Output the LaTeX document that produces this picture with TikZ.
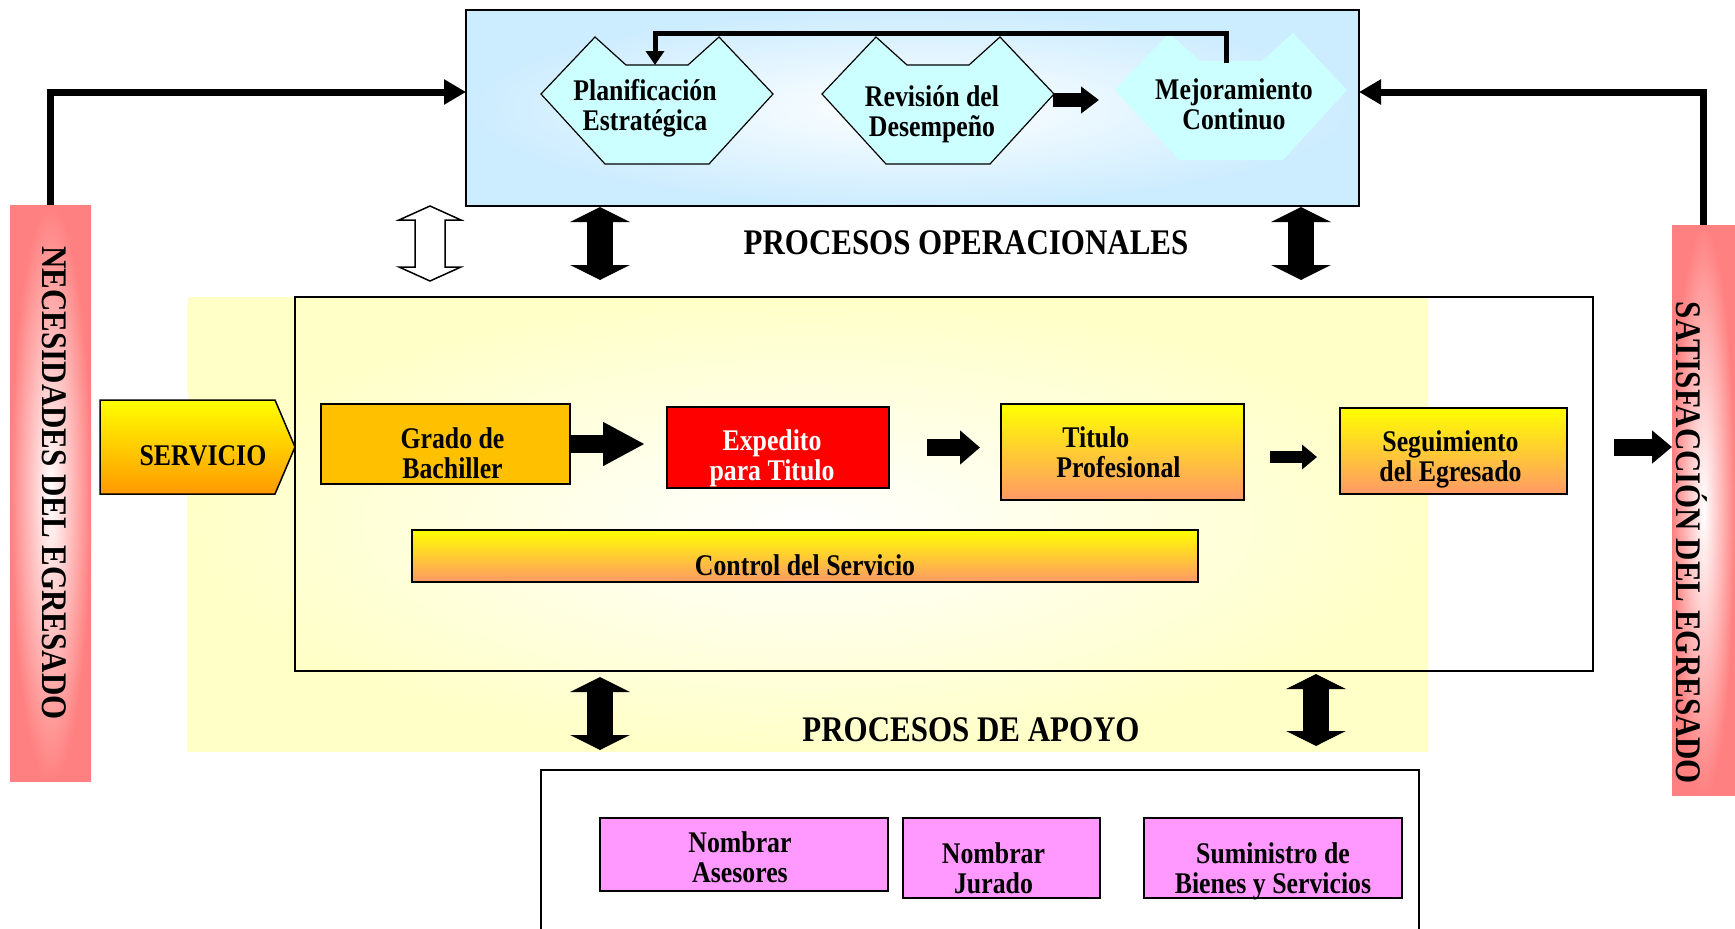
\documentclass[tikz,border=0pt]{standalone}
\usepackage{fontspec}
\setmainfont{Liberation Serif}[FakeStretch=0.86]
\usetikzlibrary{arrows.meta}
\definecolor{celeste}{HTML}{CCECFF}
\definecolor{cian}{HTML}{CCFFFF}
\definecolor{rosa}{HTML}{FF8080}
\definecolor{crema}{HTML}{FFFFC8}
\definecolor{ambar}{HTML}{FFC000}
\definecolor{salmon}{HTML}{FF9966}
\definecolor{naranja}{HTML}{FF9900}
\definecolor{lila}{HTML}{FF99FF}
\begin{document}
\begin{tikzpicture}[x=1pt, y=-1pt, font=\bfseries\fontsize{30}{30}\selectfont, line join=miter,
  caja/.style={draw, line width=1.5pt, inner sep=0pt, outer sep=0pt, align=center},
  barra/.style={inner sep=0pt, outer sep=0pt, inner color=white, outer color=rosa},
  titular/.style={font=\bfseries\fontsize{36}{36}\selectfont},
  bloque/.style n args={3}{line width=#1, -{Triangle[length=#2, width=#3]}},
  doble/.style={line width=26pt, {Triangle[length=15pt,width=59pt]}-{Triangle[length=15pt,width=59pt]}},
  enlace/.style={line width=7pt, -{Triangle[length=22pt,width=24pt]}},
  hexa/.pic={\path[pic actions] (-116,0) -- (-62,-57) -- (-31,-29) -- (31,-29) -- (62,-57) -- (116,0) -- (52,70) -- (-52,70) -- cycle;}]
\useasboundingbox (0,0) rectangle (1735,929);
\node[caja, line width=1.2pt, minimum width=893pt, minimum height=196pt, inner color=white, outer color=celeste] (estrategico) at (912.5,108) {};
\node[barra, minimum width=81pt, minimum height=576pt] (necesidad) at (50.5,493) {};
\node[barra, minimum width=63pt, minimum height=570pt] (satisfaccion) at (1703.5,510) {};
\node[rotate=-90, titular] (necesidadTxt) at (54,483) {NECESIDADES DEL EGRESADO};
\node[rotate=-90, titular] (satisfaccionTxt) at (1692,543) {SATISFACCIÓN DEL EGRESADO};
\node[inner sep=0pt, minimum width=1240pt, minimum height=454pt, inner color=white, outer color=crema] (zona) at (808,524) {};
\node[caja, minimum width=1298pt, minimum height=374pt] (operativo) at (944,484) {};
\pic[draw, line width=1.2pt, fill=cian] at (657,94) {hexa};
\pic[draw, line width=1.2pt, fill=cian] at (938,94) {hexa};
\pic[fill=cian] at (1231,90) {hexa};
\node[align=center] (planificacion) at (645,108) {Planificación\\Estratégica};
\node[align=center] (revision) at (932,114) {Revisión del\\Desempeño};
\node[align=center] (mejora) at (1234,104) {Mejoramiento\\Continuo};
\coordinate (mejoraN) at (1226,63);
\coordinate (planN) at (655,65);
\coordinate (revisionE) at (1053,100);
\coordinate (mejoraW) at (1118,100);
\draw[line width=5pt, -{Triangle[length=14pt,width=18pt]}] (mejoraN) -- ++(0,-30) -| (planN);
\draw[bloque={14pt}{18pt}{26pt}, shorten >=19pt] (revisionE) -- (mejoraW);
\draw[enlace] (necesidad.north) |- ([yshift=16pt]estrategico.west);
\draw[enlace] (satisfaccion.north) |- ([yshift=16pt]estrategico.east);
\draw[line width=1.5pt, fill=white] (430,206) -- (461,220) -- (445,220) -- (445,267) -- (461,267) -- (430,281) -- (399,267) -- (415,267) -- (415,220) -- (399,220) -- cycle;
\node[titular] (operacionales) at (966,243) {PROCESOS OPERACIONALES};
\draw[line width=1.5pt, top color=yellow, bottom color=naranja] (100,400) -- (275,400) -- (295,447) -- (275,494) -- (100,494) -- cycle;
\node (servicio) at (203,456) {SERVICIO};
\node[caja, fill=ambar, minimum width=249pt, minimum height=80pt,
  label={[name=gradoTxt, align=center, xshift=7pt, yshift=-9pt]center:{Grado de\\Bachiller}}] (grado) at (445.5,444) {};
\node[caja, fill=red, minimum width=222pt, minimum height=81pt,
  label={[name=expeditoTxt, align=center, text=white, xshift=-6pt, yshift=-11pt]center:{Expedito\\para Titulo}}] (expedito) at (778,447.5) {};
\node[caja, top color=yellow, bottom color=salmon, minimum width=243pt, minimum height=96pt,
  label={[name=tituloTxt, align=left, xshift=-4pt]center:{\hspace*{6pt}Titulo\\Profesional}}] (titulo) at (1122.5,452) {};
\node[caja, top color=yellow, bottom color=salmon, minimum width=227pt, minimum height=86pt,
  label={[name=seguimientoTxt, align=center, xshift=-3pt, yshift=-8pt]center:{Seguimiento\\del Egresado}}] (seguimiento) at (1453.5,451) {};
\node[caja, top color=yellow, bottom color=salmon, minimum width=786pt, minimum height=52pt,
  label={[name=controlTxt, yshift=-9pt]center:Control del Servicio}] (control) at (805,556) {};
\draw[bloque={18pt}{42pt}{41pt}, shorten >=22pt] (grado.east) -- (grado.east -| expedito.west);
\draw[bloque={17pt}{20pt}{33pt}, shorten <=38pt, shorten >=21pt] (expedito.east) -- (expedito.east -| titulo.west);
\draw[bloque={12pt}{15pt}{24pt}, shorten <=26pt, shorten >=23pt] ([yshift=-5pt]titulo.east) -- ([yshift=-5pt]titulo.east -| seguimiento.west);
\draw[bloque={17pt}{20pt}{32pt}, shorten <=47pt] ([yshift=4pt]seguimiento.east) -- ([yshift=4pt]seguimiento.east -| satisfaccion.west);
\draw[line width=1.5pt] (541,935) -- (541,770) -- (1419,770) -- (1419,935);
\coordinate (apoyo) at (980,770);
\node[titular] (apoyoTxt) at (971,730) {PROCESOS DE APOYO};
\foreach \n/\x/\y/\w/\h/\s/\d/\t in {asesores/744/854.5/288/73/-4/3/{Nombrar\\Asesores}, jurado/1001.5/858/197/80/-8/10/{Nombrar\\Jurado}, suministro/1273/858/258/80/0/13/{Suministro de\\Bienes y Servicios}}{
  \node[caja, fill=lila, minimum width=\w pt, minimum height=\h pt,
    label={[name=\n Txt, align=center, xshift=\s pt, yshift=-\d pt]center:{\t}}] (\n) at (\x,\y) {};}
\foreach \x/\a/\b/\s/\e in {600/estrategico.south/operativo.north/1/17, 1301/estrategico.south/operativo.north/1/17, 600/operativo.south/apoyo/6/20, 1316/operativo.south/apoyo/3/24}{
  \draw[doble, shorten <=\s pt, shorten >=\e pt] (\x,0 |- \a) -- (\x,0 |- \b);}
\end{tikzpicture}
\end{document}
